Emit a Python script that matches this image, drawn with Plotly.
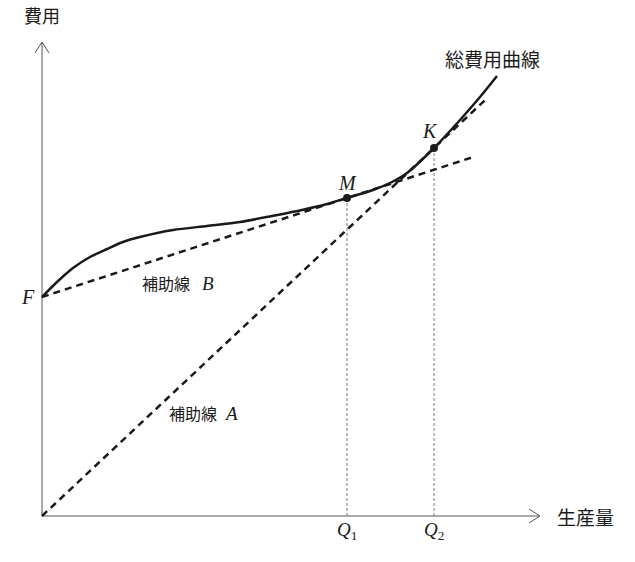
import plotly.graph_objects as go

# ---- data (units: horizontal = output, vertical = cost) ----
curve_q = [0, 15, 31, 48, 65, 81, 98, 131, 165, 198, 230, 260, 285, 305, 331, 350, 365, 392, 418, 438, 455]
curve_c = [219, 234, 248, 259, 267, 274, 279, 286, 290, 294, 300, 306, 312, 318, 326, 334, 343, 368, 396, 419, 440]

F_val = 219          # fixed cost (intercept)
Q1, M_c = 305, 318   # point M
Q2, K_c = 392, 368   # point K
lineB_end_q = 430
lineA_end_q = 445
x_axis_len = 498
y_axis_len = 474

slopeB = (M_c - F_val) / Q1
slopeA = K_c / Q2

INK = "#1a1a1a"
AXIS = "#5a5555"
SERIF = "Liberation Serif, DejaVu Serif, serif"
CJK = "Noto Sans CJK JP, sans-serif"

fig = go.Figure()

# axes
fig.add_trace(go.Scatter(x=[0, x_axis_len], y=[0, 0], mode="lines",
                         line=dict(color=AXIS, width=1), hoverinfo="skip"))
fig.add_trace(go.Scatter(x=[0, 0], y=[0, y_axis_len], mode="lines",
                         line=dict(color=AXIS, width=1), hoverinfo="skip"))
# open arrow heads
fig.add_trace(go.Scatter(x=[x_axis_len - 11, x_axis_len, x_axis_len - 11], y=[7, 0, -7],
                         mode="lines", line=dict(color=AXIS, width=1), hoverinfo="skip"))
fig.add_trace(go.Scatter(x=[-7, 0, 7], y=[y_axis_len - 11, y_axis_len, y_axis_len - 11],
                         mode="lines", line=dict(color=AXIS, width=1), hoverinfo="skip"))

# guide verticals
for q, c in [(Q1, M_c), (Q2, K_c)]:
    fig.add_trace(go.Scatter(x=[q, q], y=[0, c], mode="lines",
                             line=dict(color="#777", width=1, dash="3px,2px"), hoverinfo="skip"))

# helper line B (tangent at M through F)
fig.add_trace(go.Scatter(x=[0, lineB_end_q], y=[F_val, F_val + slopeB * lineB_end_q], mode="lines",
                         line=dict(color=INK, width=2.5, dash="7px,5px"), hoverinfo="skip"))
# helper line A (ray from origin through K)
fig.add_trace(go.Scatter(x=[0, lineA_end_q], y=[0, slopeA * lineA_end_q], mode="lines",
                         line=dict(color=INK, width=2.5, dash="7px,5px"), hoverinfo="skip"))

# total cost curve
fig.add_trace(go.Scatter(x=curve_q, y=curve_c, mode="lines",
                         line=dict(color=INK, width=2.5, shape="spline", smoothing=0.8),
                         hoverinfo="skip"))

# points M, K
fig.add_trace(go.Scatter(x=[Q1, Q2], y=[M_c, K_c], mode="markers",
                         marker=dict(color=INK, size=8), hoverinfo="skip"))

def ann(x, y, text, size=18, font=CJK, xanchor="center", yanchor="middle", style="normal"):
    fig.add_annotation(x=x, y=y, text=text, showarrow=False, xanchor=xanchor, yanchor=yanchor,
                       font=dict(family=font, size=size, color=INK, style=style))

ann(0, y_axis_len + 12, "費用", size=18, yanchor="bottom")
ann(x_axis_len + 15, 0, "生産量", size=19, xanchor="left")
ann(450, 458, "総費用曲線", size=19)
ann(Q2 - 4, K_c + 17, "K", size=20, font=SERIF, style="italic")
ann(Q1, M_c + 15, "M", size=20, font=SERIF, style="italic")
ann(-14, F_val, "F", size=20, font=SERIF, style="italic")
ann(Q1, -15, "<i>Q</i><sub>1</sub>", size=19, font=SERIF)
ann(Q2, -15, "<i>Q</i><sub>2</sub>", size=19, font=SERIF)
ann(98, 233, "補助線", size=16, xanchor="left")
ann(158, 233, "B", size=19, font=SERIF, xanchor="left", style="italic")
ann(125, 103, "補助線", size=16, xanchor="left")
ann(180, 103, "A", size=19, font=SERIF, xanchor="left", style="italic")

fig.update_layout(
    width=635, height=562,
    margin=dict(l=0, r=0, t=0, b=0),
    paper_bgcolor="white", plot_bgcolor="white",
    showlegend=False,
    xaxis=dict(range=[-42, 593], visible=False, fixedrange=True),
    yaxis=dict(range=[-46, 516], visible=False, fixedrange=True),
)

fig.write_html("out.html")
